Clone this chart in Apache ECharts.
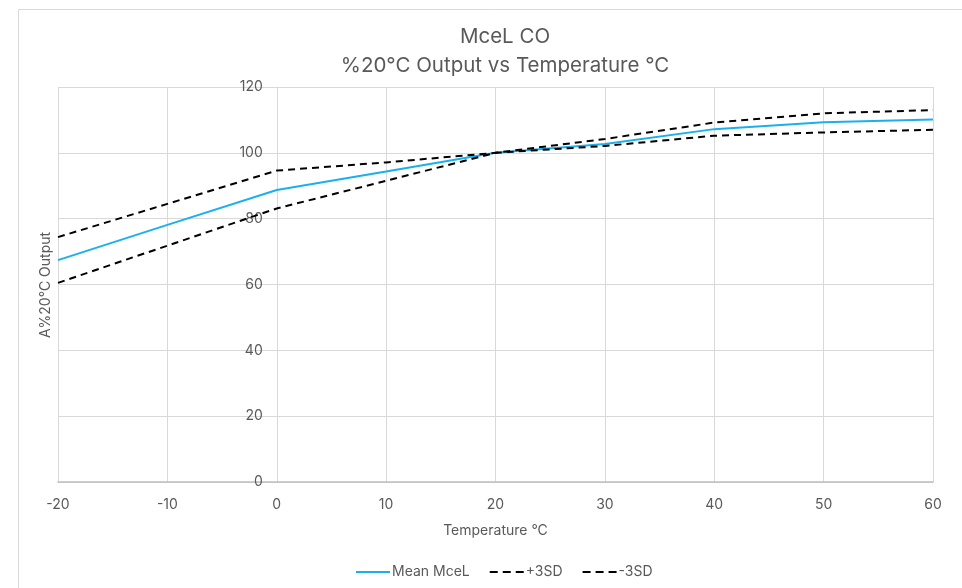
<!DOCTYPE html>
<html><head><meta charset="utf-8">
<script src="https://cdn.jsdelivr.net/npm/echarts@6/dist/echarts.min.js"></script>
<style>html,body{margin:0;padding:0;background:#fff}#c{width:962px;height:588px}</style>
</head><body><div id="c"></div>
<script>
const temps = [-20, -10, 0, 10, 20, 30, 40, 50, 60];
const meanMcel = [67.4, 78.1, 88.7, 94.3, 100, 102.7, 107.2, 109.3, 110.1];
const plus3SD  = [74.4, 84.5, 94.6, 97.1, 100, 104.2, 109.2, 112.0, 113.0];
const minus3SD = [60.5, 71.8, 83.1, 91.5, 100, 102.1, 105.2, 106.2, 107.0];
const seriesNames = ['Mean MceL', '+3SD', '-3SD'];

const pair = arr => temps.map((t, i) => [t, arr[i]]);
const FONT = 'Inter, Roboto, sans-serif';
const GREY = '#595959';
const GRID = { left: 58, right: 29, top: 87, bottom: 106 };
const X_MIN = -20, X_MAX = 60;
// place the y axis where x = 0 (computed from the grid width)
const yAxisOffset = -((0 - X_MIN) / (X_MAX - X_MIN)) * (962 - GRID.left - GRID.right);

const SOLID_ICON = 'path://M0,0h34v2h-34z';
const DASH_ICON = 'path://M0,0h8v2h-8z M13,0h8v2h-8z M26,0h8v2h-8z';

const chart = echarts.init(document.getElementById('c'));
chart.setOption({
  animation: false,
  textStyle: { fontFamily: FONT },
  title: {
    text: 'MceL CO',
    subtext: '%20\u00B0C Output vs Temperature \u00B0C',
    left: 500, textAlign: 'center', top: 21, itemGap: 8,
    textStyle: { fontSize: 20.5, fontWeight: 'normal', color: GREY, fontFamily: FONT },
    subtextStyle: { fontSize: 20.5, color: GREY, fontFamily: FONT }
  },
  graphic: [{
    type: 'rect', shape: { x: 18.5, y: 9.5, width: 1000, height: 1000 },
    style: { fill: 'none', stroke: '#d9d9d9', lineWidth: 1 }, silent: true, z: -1
  }, {
    type: 'text', x: 46, y: 285, rotation: Math.PI / 2, silent: true,
    style: { text: 'A%20\u00B0C Output', fontSize: 14, fill: GREY, fontFamily: FONT,
             align: 'center', verticalAlign: 'middle' }
  }],
  legend: {
    show: true, bottom: 4, left: 351, itemWidth: 34, itemHeight: 2, itemGap: 20,
    textStyle: { fontSize: 14, color: GREY, fontFamily: FONT, padding: [0, 0, 0, -3] },
    data: [
      { name: seriesNames[0], icon: SOLID_ICON, itemStyle: { color: '#1ab0ec' } },
      { name: seriesNames[1], icon: DASH_ICON, itemStyle: { color: '#000' } },
      { name: seriesNames[2], icon: DASH_ICON, itemStyle: { color: '#000' } }
    ]
  },
  grid: Object.assign({ containLabel: false, outerBoundsMode: 'none' }, GRID),
  xAxis: {
    type: 'value', min: X_MIN, max: X_MAX, interval: 10,
    name: 'Temperature \u00B0C', nameLocation: 'middle', nameGap: 42,
    nameTextStyle: { fontSize: 14, color: GREY },
    axisLine: { onZero: false, lineStyle: { color: '#bfbfbf', width: 1.5 } },
    axisTick: { show: false },
    axisLabel: { fontSize: 14, color: GREY, margin: 16 },
    splitLine: { lineStyle: { color: '#d9d9d9' } }
  },
  yAxis: {
    type: 'value', min: 0, max: 120, interval: 20,
    position: 'left', offset: yAxisOffset,
    axisLine: { show: true, onZero: false, lineStyle: { color: '#d9d9d9' } },
    axisTick: { show: false },
    axisLabel: { fontSize: 14, color: GREY, margin: 14 },
    splitLine: { lineStyle: { color: '#d9d9d9' } }
  },
  series: [
    { name: seriesNames[0], type: 'line', data: pair(meanMcel), symbol: 'none',
      lineStyle: { color: '#1ab0ec', width: 2 }, itemStyle: { color: '#1ab0ec' }, z: 3 },
    { name: seriesNames[1], type: 'line', data: pair(plus3SD), symbol: 'none',
      lineStyle: { color: '#000', width: 2, type: [7, 5] }, itemStyle: { color: '#000' } },
    { name: seriesNames[2], type: 'line', data: pair(minus3SD), symbol: 'none',
      lineStyle: { color: '#000', width: 2, type: [7, 5] }, itemStyle: { color: '#000' } }
  ]
});
</script></body></html>
